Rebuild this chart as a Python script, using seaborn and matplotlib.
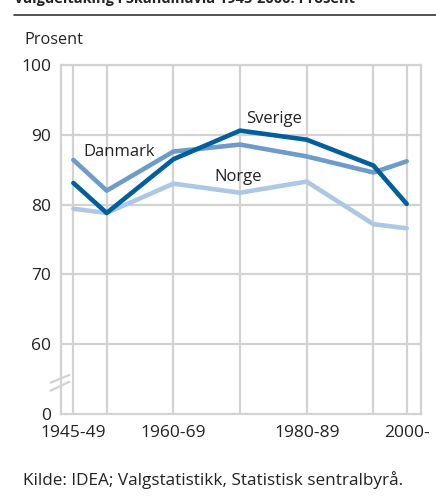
import matplotlib
matplotlib.use("Agg")
import matplotlib.pyplot as plt
import seaborn as sns
import pandas as pd

periods = ["1945-49", "1950-59", "1960-69", "1970-79", "1980-89", "1990-99", "2000-"]
period_pos = [0, 0.5, 1.5, 2.5, 3.5, 4.5, 5.0]
danmark = [86.4, 82.0, 87.6, 88.6, 86.9, 84.6, 86.2]
sverige = [83.1, 78.8, 86.5, 90.6, 89.3, 85.6, 80.1]
norge = [79.4, 78.8, 83.0, 81.7, 83.3, 77.2, 76.6]
xtick_labels = ["1945-49", "1960-69", "1980-89", "2000-"]
ytick_labels = ["0", "60", "70", "80", "90", "100"]

sns.set_style("white")
plt.rcParams["font.family"] = ["Open Sans", "DejaVu Sans"]

rows = []
for name, vals in [("Danmark", danmark), ("Sverige", sverige), ("Norge", norge)]:
    for p, v in zip(periods, vals):
        rows.append({"land": name, "periode": p, "x": period_pos[periods.index(p)], "prosent": v})
df = pd.DataFrame(rows)

palette = {"Norge": "#adc8e6", "Danmark": "#6d9bca", "Sverige": "#005f9c"}

fig = plt.figure(figsize=(4.36, 4.98), dpi=100)
ax = fig.add_axes([60.7 / 436, 1 - 414 / 498, (420.7 - 60.7) / 436, (414 - 65) / 498])

grid_c = "#d2d2d2"
for xp in period_pos:
    ax.axvline(xp, color=grid_c, lw=1.6, zorder=0)
for yv in [60, 70, 80, 90, 100]:
    ax.axhline(yv, color=grid_c, lw=1.6, zorder=0)

sns.lineplot(data=df, x="x", y="prosent", hue="land", hue_order=["Norge", "Danmark", "Sverige"],
             palette=palette, linewidth=3.3, legend=False, ax=ax, zorder=3)

ax.set_xlim(-0.19, 5.21)
ax.set_ylim(50, 100)
ax.set_xticks([0, 1.5, 3.5, 5.0])
ax.set_xticklabels(xtick_labels)
ax.set_yticks([50, 60, 70, 80, 90, 100])
ax.set_yticklabels(ytick_labels)
ax.set_xlabel("")
ax.set_ylabel("")
ax.tick_params(axis="both", length=0, labelsize=12.5, colors="#222222", pad=7)
ax.tick_params(axis="x", pad=8)
for s in ax.spines.values():
    s.set_color(grid_c)
    s.set_linewidth(1.6)

lab_kw = dict(fontsize=12, color="#222222", va="center", ha="left", zorder=5)
ax.text(0.145, 87.6, "Danmark", **lab_kw)
ax.text(2.59, 92.3, "Sverige", **lab_kw)
ax.text(2.11, 84.0, "Norge", **lab_kw)

# axis break marks
for y0, y1 in [(0.0897, 0.1117), (0.0668, 0.0926)]:
    ax.plot([-0.028, 0.024], [y0, y1], transform=ax.transAxes, color=grid_c, lw=1.6, clip_on=False)

fig.text(24 / 436, 1 - 44 / 498, "Prosent", fontsize=11.7, color="#222222", ha="left", va="baseline")
fig.text(14 / 436, 1 - 3 / 498, "Valgdeltaking i Skandinavia 1945-2000. Prosent", fontsize=10.5,
         fontweight="bold", color="#222222", ha="left", va="baseline")
fig.add_artist(plt.Line2D([14 / 436, 1.0], [1 - 15 / 498, 1 - 15 / 498], color="#333333", lw=1.2))
fig.text(23 / 436, 1 - 480 / 498, "Kilde: IDEA; Valgstatistikk, Statistisk sentralbyrå.", fontsize=12.3,
         color="#222222", ha="left", va="center")

fig.savefig("out.png", dpi=100)
